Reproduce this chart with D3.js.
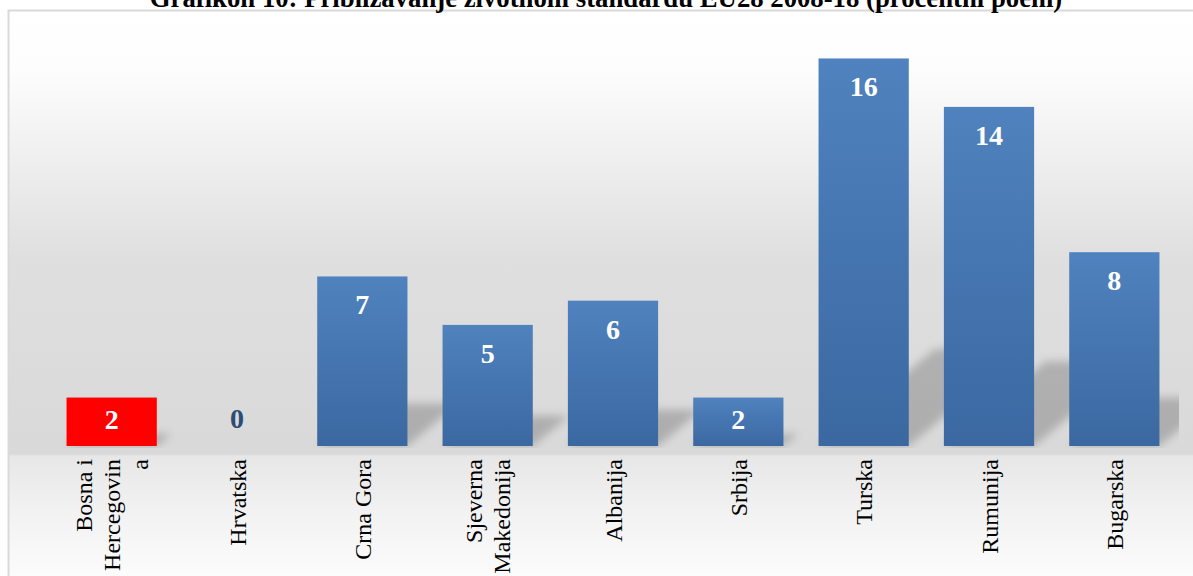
<!DOCTYPE html>
<html>
<head>
<meta charset="utf-8">
<script src="https://cdn.jsdelivr.net/npm/d3@7"></script>
<style>
  html, body { margin: 0; padding: 0; background: #fff; overflow: hidden; }
  svg { display: block; }
</style>
</head>
<body>
<div id="chart"></div>
<script>
// chart values
const chartTitle = 'Grafikon 10: Približavanje životnom standardu EU28 2008-18 (procentni poeni)';
const categories = ['Bosna i\nHercegovin\na', 'Hrvatska', 'Crna Gora', 'Sjeverna\nMakedonija', 'Albanija', 'Srbija', 'Turska', 'Rumunija', 'Bugarska'];
const values = [2, 0, 7, 5, 6, 2, 16, 14, 8];
const highlightIndex = 0;

const width = 1193;
const height = 576;
const baseY = 446;
const margin = { left: 49, right: 16, top: 10 };

const svg = d3.select('#chart')
  .append('svg')
  .attr('width', width)
  .attr('height', height)
  .attr('xmlns', 'http://www.w3.org/2000/svg');

const defs = svg.append('defs');

// chart area background
const bg = defs.append('linearGradient')
  .attr('id', 'bgGrad')
  .attr('x1', 0).attr('y1', 0).attr('x2', 0).attr('y2', 1);
[[0, '#ffffff'], [0.1, '#fdfdfd'], [0.42, '#dfdfdf'], [0.752, '#d9d9d9'], [0.755, '#e7e7e7'], [0.86, '#f3f3f3'], [1, '#ffffff']]
  .forEach(s => bg.append('stop').attr('offset', s[0]).attr('stop-color', s[1]));

const barGrad = defs.append('linearGradient')
  .attr('id', 'barGrad')
  .attr('x1', 0).attr('y1', 0).attr('x2', 0).attr('y2', 1);
barGrad.append('stop').attr('offset', 0).attr('stop-color', '#4f82be');
barGrad.append('stop').attr('offset', 1).attr('stop-color', '#3b68a1');

defs.append('filter')
  .attr('id', 'blur')
  .attr('x', '-20%').attr('y', '-20%').attr('width', '140%').attr('height', '140%')
  .append('feGaussianBlur')
  .attr('stdDeviation', 4);

defs.append('clipPath')
  .attr('id', 'plotClip')
  .append('rect')
  .attr('x', margin.left)
  .attr('y', margin.top)
  .attr('width', 1179 - margin.left)
  .attr('height', baseY - margin.top + 2);

svg.append('rect')
  .attr('x', 8.5)
  .attr('y', 10.5)
  .attr('width', 1200)
  .attr('height', 590)
  .attr('fill', 'url(#bgGrad)')
  .attr('stroke', '#d9d9d9')
  .attr('stroke-width', 2);

// title, partly cut off at the top like the original
const title = svg.append('text')
  .attr('x', 606)
  .attr('y', 7)
  .attr('text-anchor', 'middle')
  .attr('font-family', '"Liberation Serif", "Times New Roman", serif')
  .attr('font-weight', 700)
  .attr('font-size', 24)
  .attr('fill', '#000')
  .text(chartTitle);
const tl = title.node().getComputedTextLength();
if (tl > 0) title.attr('font-size', 24 * 913 / tl);

const xScale = d3.scaleBand()
  .domain(d3.range(categories.length))
  .range([margin.left, width - margin.right])
  .paddingInner(0.28)
  .paddingOuter(0.14);

const yScale = d3.scaleLinear()
  .domain([0, 18])
  .range([baseY, margin.top]);

const bw = xScale.bandwidth();

// perspective shadows behind the bars
svg.append('g')
  .attr('clip-path', 'url(#plotClip)')
  .append('g')
  .attr('filter', 'url(#blur)')
  .selectAll('path')
  .data(values)
  .join('path')
  .attr('d', (d, i) => {
    const x0 = xScale(i);
    const h = baseY - yScale(d);
    const dx = 0.3 * h;
    const dy = 0.25 * h;
    return `M${x0},${baseY}L${x0 + bw},${baseY}L${x0 + bw + dx},${baseY - dy}L${x0 + dx},${baseY - dy}Z`;
  })
  .attr('fill', '#000')
  .attr('fill-opacity', 0.2);

// bars
svg.append('g')
  .selectAll('rect')
  .data(values)
  .join('rect')
  .attr('x', (d, i) => xScale(i))
  .attr('y', d => yScale(d))
  .attr('width', bw)
  .attr('height', d => baseY - yScale(d))
  .attr('fill', (d, i) => i === highlightIndex ? '#ff0000' : 'url(#barGrad)');

// value labels
svg.append('g')
  .selectAll('text')
  .data(values)
  .join('text')
  .attr('x', (d, i) => xScale(i) + bw / 2)
  .attr('y', d => d === 0 ? baseY - 18 : Math.min(yScale(d) + 38, (yScale(d) + baseY) / 2 + 7))
  .attr('text-anchor', 'middle')
  .attr('font-family', '"Liberation Serif", "Times New Roman", serif')
  .attr('font-weight', 700)
  .attr('font-size', 28)
  .attr('fill', d => d === 0 ? '#2c4c76' : '#ffffff')
  .text(d => d);

// rotated category labels
const lineGap = 28;
const labels = svg.append('g')
  .selectAll('text')
  .data(categories)
  .join('text')
  .attr('transform', (d, i) => `translate(${xScale(i) + bw / 2}, 459) rotate(-90)`)
  .attr('text-anchor', 'end')
  .attr('font-family', '"Liberation Serif", "Times New Roman", serif')
  .attr('font-size', 24)
  .attr('fill', '#000');

labels.each(function (d) {
  const lines = d.split('\n');
  const t = d3.select(this);
  lines.forEach((line, j) => {
    t.append('tspan')
      .attr('x', 0)
      .attr('y', (j - (lines.length - 1) / 2) * lineGap + 8.5)
      .text(line);
  });
});
</script>
</body>
</html>
